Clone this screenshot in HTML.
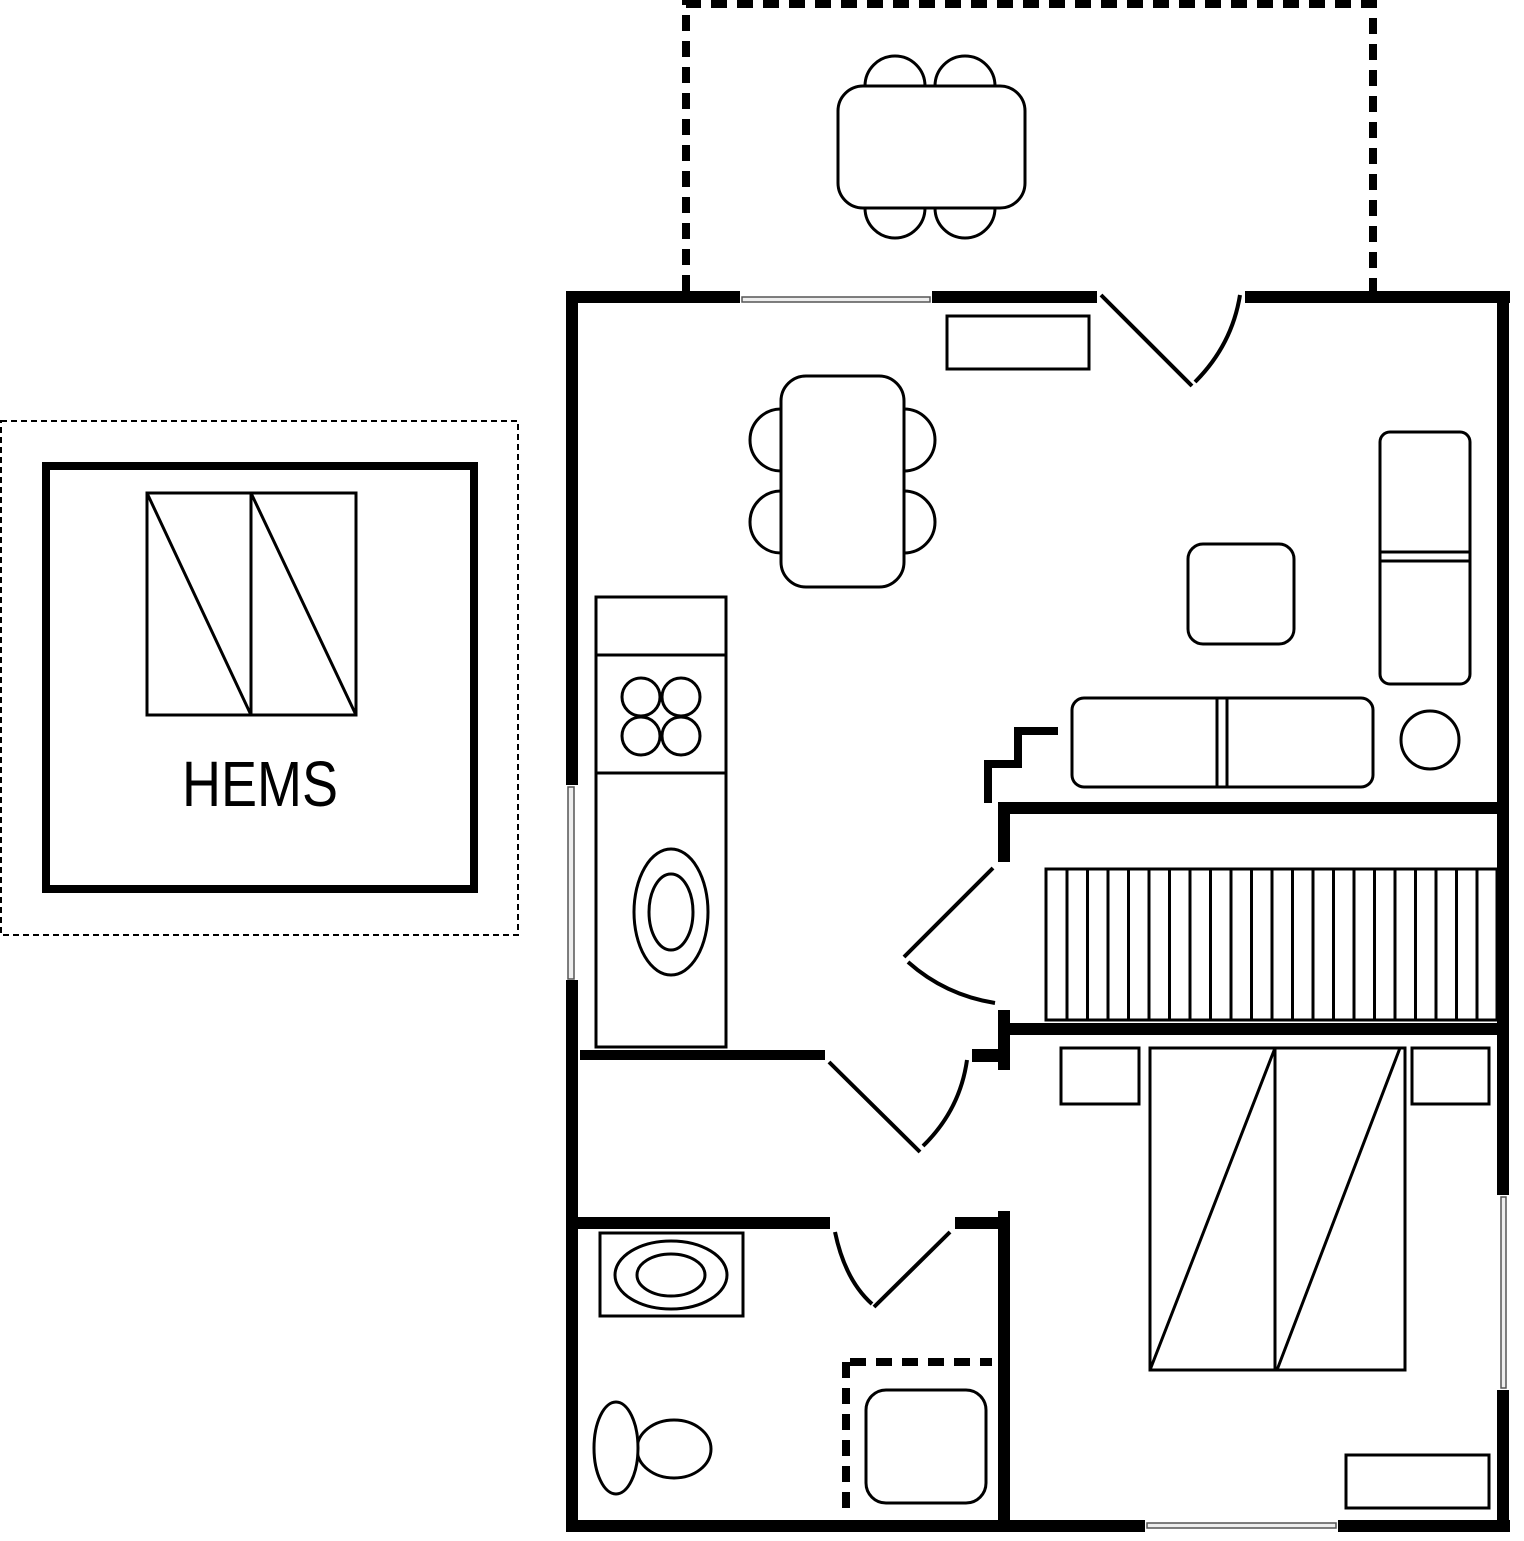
<!DOCTYPE html>
<html><head><style>html,body{margin:0;padding:0;background:#fff}svg{display:block}</style></head>
<body>
<svg width="1524" height="1541" viewBox="0 0 1524 1541" xmlns="http://www.w3.org/2000/svg">
<g fill="none" stroke="#000" stroke-width="8" stroke-dasharray="16,10">
  <path d="M686 291 V4 H1373 V291"/>
  <path d="M850 1362 H992"/>
  <path d="M846 1362 V1515"/>
</g>
<g fill="#000">
  <rect x="566" y="291" width="174" height="12"/>
  <rect x="932" y="291" width="165" height="12"/>
  <rect x="1245" y="291" width="265" height="12"/>
  <rect x="1497" y="291" width="12" height="904"/>
  <rect x="1497" y="1390" width="12" height="142"/>
  <rect x="566" y="291" width="12" height="494"/>
  <rect x="566" y="980" width="12" height="552"/>
  <rect x="566" y="1520" width="579" height="12"/>
  <rect x="1338" y="1520" width="172" height="12"/>
  <rect x="998" y="802" width="505" height="12"/>
  <rect x="998" y="802" width="12" height="60"/>
  <rect x="998" y="1023" width="505" height="12"/>
  <rect x="998" y="1010" width="12" height="60"/>
  <rect x="972" y="1049" width="28" height="13"/>
  <rect x="580" y="1050" width="245" height="10"/>
  <rect x="566" y="1217" width="264" height="12"/>
  <rect x="955" y="1217" width="45" height="12"/>
  <rect x="998" y="1211" width="12" height="321"/>
</g>
<g fill="#eee" stroke="#555" stroke-width="1.5">
  <rect x="742" y="297" width="188" height="5"/>
  <rect x="568" y="787" width="6" height="192"/>
  <rect x="1147" y="1523" width="189" height="5"/>
  <rect x="1501" y="1197" width="5" height="191"/>
</g>
<path d="M1058 731 H1018 V764 H988 V803" fill="none" stroke="#000" stroke-width="8"/>
<g fill="none" stroke="#000" stroke-width="4">
  <path d="M1101 295 L1192 386"/><path d="M1195 382 Q1232 345 1240 295"/>
  <path d="M993 868 L904 957"/><path d="M908 962 Q945 995 995 1003"/>
  <path d="M829 1062 L920 1152"/><path d="M923 1146 Q960 1110 967 1060"/>
  <path d="M950 1232 L874 1307"/><path d="M835 1232 Q845 1280 872 1304"/>
</g>
<g fill="#fff" stroke="#000" stroke-width="3">
  <circle cx="895" cy="86" r="30"/><circle cx="965" cy="86" r="30"/>
  <circle cx="895" cy="208" r="30"/><circle cx="965" cy="208" r="30"/>
  <rect x="838" y="86" width="187" height="122" rx="25"/>
  <rect x="947" y="316" width="142" height="53"/>
  <circle cx="781" cy="440" r="31"/><circle cx="781" cy="522" r="31"/>
  <circle cx="904" cy="440" r="31"/><circle cx="904" cy="522" r="31"/>
  <rect x="781" y="376" width="123" height="211" rx="25"/>
  <rect x="596" y="597" width="130" height="450"/>
  <path d="M596 655 H726 M596 773 H726"/>
  <circle cx="641" cy="697" r="19"/><circle cx="681" cy="697" r="19"/>
  <circle cx="641" cy="736" r="19"/><circle cx="681" cy="736" r="19"/>
  <ellipse cx="671" cy="912" rx="37" ry="63"/><ellipse cx="671" cy="912" rx="22" ry="38"/>
  <rect x="1188" y="544" width="106" height="100" rx="15"/>
  <rect x="1380" y="432" width="90" height="252" rx="10"/>
  <path d="M1380 552 H1470 M1380 561 H1470"/>
  <rect x="1072" y="698" width="301" height="89" rx="12"/>
  <path d="M1217 698 V787 M1227 698 V787"/>
  <circle cx="1430" cy="740" r="29"/>
  <rect x="1046" y="869" width="451" height="151"/>
  <path d="M1067 869V1020M1087.5 869V1020M1108 869V1020M1128.5 869V1020M1149 869V1020M1169.5 869V1020M1190 869V1020M1210.5 869V1020M1231 869V1020M1251.5 869V1020M1272 869V1020M1292.5 869V1020M1313 869V1020M1333.5 869V1020M1354 869V1020M1374.5 869V1020M1395 869V1020M1415.5 869V1020M1436 869V1020M1456.5 869V1020M1477 869V1020"/>
  <rect x="1061" y="1048" width="78" height="56"/>
  <rect x="1412" y="1048" width="77" height="56"/>
  <rect x="1150" y="1048" width="255" height="322"/>
  <path d="M1275 1048 V1370 M1275 1048 L1150 1370 M1400 1048 L1277 1370"/>
  <rect x="1346" y="1455" width="143" height="53"/>
  <rect x="600" y="1233" width="143" height="83"/>
  <ellipse cx="671" cy="1275" rx="56" ry="34"/><ellipse cx="671" cy="1275" rx="34" ry="21"/>
  <ellipse cx="674" cy="1449" rx="37" ry="29"/>
  <ellipse cx="616" cy="1448" rx="22" ry="46"/>
  <rect x="866" y="1390" width="120" height="113" rx="20"/>
</g>
<rect x="1" y="421" width="517" height="514" fill="none" stroke="#000" stroke-width="2" stroke-dasharray="6,4"/>
<rect x="46" y="466" width="428" height="423" fill="none" stroke="#000" stroke-width="8"/>
<g fill="none" stroke="#000" stroke-width="3">
  <rect x="147" y="493" width="209" height="222"/>
  <path d="M251 493 V715 M147 493 L251 715 M251 493 L356 715"/>
</g>
<text x="182" y="806" font-family="Liberation Sans, sans-serif" font-size="64" textLength="156" lengthAdjust="spacingAndGlyphs" fill="#000">HEMS</text>
</svg>
</body></html>
